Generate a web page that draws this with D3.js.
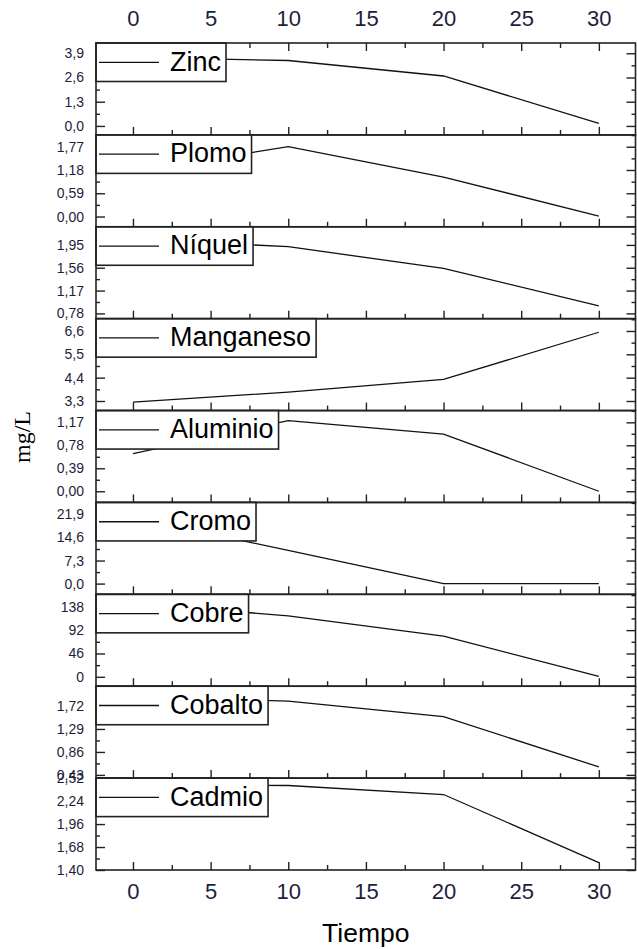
<!DOCTYPE html>
<html><head><meta charset="utf-8">
<script src="https://cdn.jsdelivr.net/npm/d3@7"></script>
<style>body{margin:0;background:#fff;} svg{display:block;font-family:"Liberation Sans",Arial,sans-serif;}</style>
</head><body><svg id="c" width="637" height="949"></svg>
<script>
// ---- data ----
const tiempo = [0, 10, 20, 30];
const metales = ["Zinc", "Plomo", "Níquel", "Manganeso", "Aluminio", "Cromo", "Cobre", "Cobalto", "Cadmio"];
const zinc      = [3.68, 3.51, 2.68, 0.14];
const plomo     = [1.15, 1.77, 1.00, 0.01];
const niquel    = [2.05, 1.92, 1.55, 0.91];
const manganeso = [3.25, 3.72, 4.32, 6.54];
const aluminio  = [0.64, 1.20, 0.97, 0.00];
const cromo     = [21.0, 10.5, 0.0, 0.0];
const cobre     = [145, 120, 80, 1];
const cobalto   = [1.90, 1.81, 1.52, 0.58];
const cadmio    = [2.44, 2.43, 2.32, 1.49];
const series = [zinc, plomo, niquel, manganeso, aluminio, cromo, cobre, cobalto, cadmio];

// y tick values and axis ranges per panel
const zincTicks      = [0, 1.3, 2.6, 3.9];
const plomoTicks     = [0, 0.59, 1.18, 1.77];
const niquelTicks    = [0.78, 1.17, 1.56, 1.95];
const manganesoTicks = [3.3, 4.4, 5.5, 6.6];
const aluminioTicks  = [0, 0.39, 0.78, 1.17];
const cromoTicks     = [0, 7.3, 14.6, 21.9];
const cobreTicks     = [0, 46, 92, 138];
const cobaltoTicks   = [0.43, 0.86, 1.29, 1.72];
const cadmioTicks    = [1.40, 1.68, 1.96, 2.24, 2.52];
const yTicks = [zincTicks, plomoTicks, niquelTicks, manganesoTicks, aluminioTicks, cromoTicks, cobreTicks, cobaltoTicks, cadmioTicks];
const decimals = [1, 2, 2, 1, 2, 1, 0, 2, 2];
const yDomains = [[-0.48, 4.45], [-0.26, 2.07], [0.69, 2.26], [2.85, 7.18], [-0.19, 1.37], [-3.4, 25.7], [-18.5, 162.5], [0.37, 2.09], [1.40, 2.52]];
const xTicks = [0, 5, 10, 15, 20, 25, 30];
const xMinor = [2.5, 7.5, 12.5, 17.5, 22.5, 27.5];

// ---- layout ----
const L = 96, R = 635.5, T = 43, B = 870;
const svg = d3.select("#c");
const x = d3.scaleLinear().domain([-2.38, 32.36]).range([L, R]);
const band = d3.scaleBand().domain(metales).range([T, B]).padding(0);
const fmt = (v, d) => v.toFixed(d).replace(".", ",");

metales.forEach((name, i) => {
  const top = band(name), bot = top + band.bandwidth();
  const y = d3.scaleLinear().domain(yDomains[i]).range([bot, top]);
  const g = svg.append("g");
  const ticks = yTicks[i];
  const step = ticks[1] - ticks[0];
  const minor = [];
  for (let k = -1; k < ticks.length; k++) {
    const v = ticks[0] + (k + 0.5) * step;
    if (v > yDomains[i][0] && v < yDomains[i][1]) minor.push(v);
  }

  // data line
  g.append("path")
    .datum(tiempo.map((t, j) => [t, series[i][j]]))
    .attr("d", d3.line().x(d => x(d[0])).y(d => y(d[1])))
    .attr("fill", "none").attr("stroke", "#111").attr("stroke-width", 1.3);

  // left axis (inward ticks, labels outside)
  const la = g.append("g").attr("transform", `translate(${L},0)`)
    .call(d3.axisLeft(y).tickValues(ticks).tickSizeInner(-9).tickSizeOuter(0).tickPadding(12)
      .tickFormat(v => fmt(v, decimals[i])));
  la.select(".domain").remove();
  la.selectAll("text").attr("font-size", 14).attr("fill", "#1e1e3c")
    .attr("font-family", "'Liberation Sans', Arial, sans-serif");
  la.selectAll("line").attr("stroke", "#222").attr("stroke-width", 1.4);
  const lm = g.append("g").attr("transform", `translate(${L},0)`)
    .call(d3.axisLeft(y).tickValues(minor).tickSizeInner(-4).tickSizeOuter(0).tickFormat(""));
  lm.select(".domain").remove();
  lm.selectAll("line").attr("stroke", "#222").attr("stroke-width", 1.4);

  // right axis
  const ra = g.append("g").attr("transform", `translate(${R},0)`)
    .call(d3.axisRight(y).tickValues(ticks).tickSizeInner(-9).tickSizeOuter(0).tickFormat(""));
  ra.select(".domain").remove();
  ra.selectAll("line").attr("stroke", "#222").attr("stroke-width", 1.4);
  const rm = g.append("g").attr("transform", `translate(${R},0)`)
    .call(d3.axisRight(y).tickValues(minor).tickSizeInner(-4).tickSizeOuter(0).tickFormat(""));
  rm.select(".domain").remove();
  rm.selectAll("line").attr("stroke", "#222").attr("stroke-width", 1.4);

  // bottom x ticks (inward)
  const last = i === metales.length - 1;
  const ba = g.append("g").attr("transform", `translate(0,${bot})`)
    .call(d3.axisBottom(x).tickValues(xTicks).tickSizeInner(-8).tickSizeOuter(0).tickPadding(13.5)
      .tickFormat(last ? d3.format("d") : ""));
  ba.select(".domain").remove();
  ba.selectAll("line").attr("stroke", "#222").attr("stroke-width", 1.4);
  ba.selectAll("text").attr("font-size", 22).attr("fill", "#1e1e3c")
    .attr("font-family", "'Liberation Sans', Arial, sans-serif");
  const bm = g.append("g").attr("transform", `translate(0,${bot})`)
    .call(d3.axisBottom(x).tickValues(xMinor).tickSizeInner(-5).tickSizeOuter(0).tickFormat(""));
  bm.select(".domain").remove();
  bm.selectAll("line").attr("stroke", "#222").attr("stroke-width", 1.4);

  if (i === 0) {
    const ta = g.append("g").attr("transform", `translate(0,${top})`)
      .call(d3.axisTop(x).tickValues(xTicks).tickSizeInner(-8).tickSizeOuter(0).tickPadding(17)
        .tickFormat(d3.format("d")));
    ta.select(".domain").remove();
    ta.selectAll("line").attr("stroke", "#222").attr("stroke-width", 1.4);
    ta.selectAll("text").attr("font-size", 22).attr("fill", "#1e1e3c")
      .attr("font-family", "'Liberation Sans', Arial, sans-serif");
    const tm = g.append("g").attr("transform", `translate(0,${top})`)
      .call(d3.axisTop(x).tickValues(xMinor).tickSizeInner(-5).tickSizeOuter(0).tickFormat(""));
    tm.select(".domain").remove();
    tm.selectAll("line").attr("stroke", "#222").attr("stroke-width", 1.4);
  }

  // legend box
  const lg = g.append("g");
  const box = lg.append("rect").attr("x", L).attr("y", top).attr("height", 38.5)
    .attr("fill", "#fff").attr("stroke", "#222").attr("stroke-width", 1.6);
  lg.append("line").attr("x1", L + 3).attr("x2", L + 63)
    .attr("y1", top + 19.3).attr("y2", top + 19.3)
    .attr("stroke", "#111").attr("stroke-width", 1.3);
  const txt = lg.append("text").attr("x", L + 74).attr("y", top + 27.5)
    .attr("font-size", 27).attr("fill", "#000").text(name);
  const w = txt.node().getComputedTextLength();
  box.attr("width", 74 + w + 5);

  // panel frame
  g.append("rect").attr("x", L).attr("y", top).attr("width", R - L).attr("height", bot - top)
    .attr("fill", "none").attr("stroke", "#222").attr("stroke-width", 1.6);
});

// axis titles
svg.append("text").attr("x", (L + R) / 2).attr("y", 941.5).attr("text-anchor", "middle")
  .attr("font-size", 26.5).attr("fill", "#000").text("Tiempo");
svg.append("text").attr("transform", "translate(30,437) rotate(-90)").attr("text-anchor", "middle")
  .attr("font-family", "'Liberation Serif', 'Times New Roman', serif")
  .attr("font-size", 24).attr("fill", "#000").text("mg/L");
</script>
</body></html>
